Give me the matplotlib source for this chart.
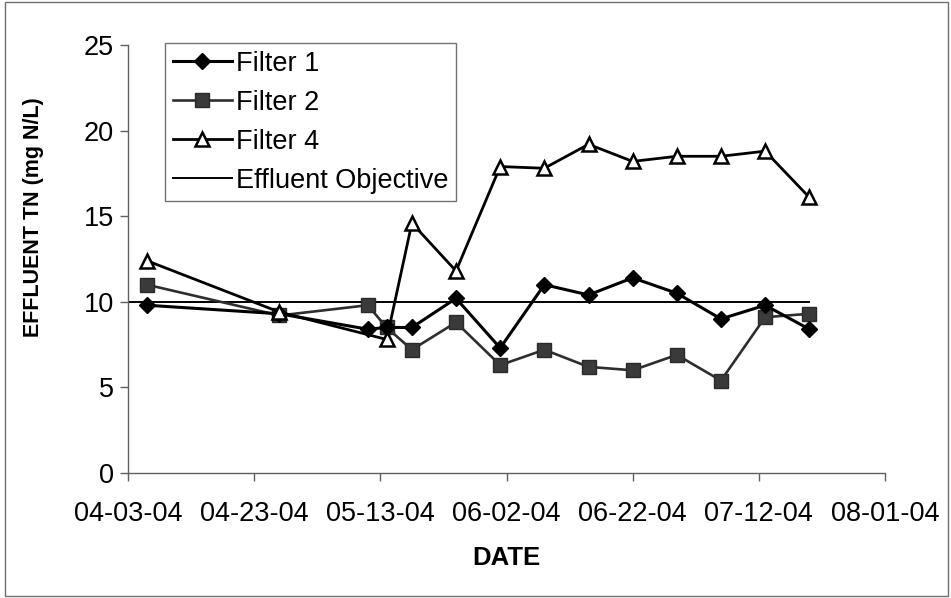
import datetime as dt
import matplotlib
matplotlib.use("Agg")
import matplotlib.pyplot as plt
import matplotlib.dates as mdates
from matplotlib.patches import Rectangle

plt.rcParams['font.family'] = ['Liberation Sans', 'DejaVu Sans']

# Sampling dates (2004) and effluent total nitrogen (mg N/L)
filter1_dates = ["2004-04-06", "2004-04-27", "2004-05-11", "2004-05-14", "2004-05-18",
                 "2004-05-25", "2004-06-01", "2004-06-08", "2004-06-15", "2004-06-22",
                 "2004-06-29", "2004-07-06", "2004-07-13", "2004-07-20"]
filter1_tn = [9.8, 9.3, 8.4, 8.5, 8.5, 10.2, 7.3, 11.0, 10.4, 11.4, 10.5, 9.0, 9.8, 8.4]

filter2_dates = ["2004-04-06", "2004-04-27", "2004-05-11", "2004-05-14", "2004-05-18",
                 "2004-05-25", "2004-06-01", "2004-06-08", "2004-06-15", "2004-06-22",
                 "2004-06-29", "2004-07-06", "2004-07-13", "2004-07-20"]
filter2_tn = [11.0, 9.2, 9.8, 8.5, 7.2, 8.8, 6.3, 7.2, 6.2, 6.0, 6.9, 5.4, 9.1, 9.3]

filter4_dates = ["2004-04-06", "2004-04-27", "2004-05-14", "2004-05-18", "2004-05-25",
                 "2004-06-01", "2004-06-08", "2004-06-15", "2004-06-22", "2004-06-29",
                 "2004-07-06", "2004-07-13", "2004-07-20"]
filter4_tn = [12.4, 9.4, 7.8, 14.6, 11.8, 17.9, 17.8, 19.2, 18.2, 18.5, 18.5, 18.8, 16.1]

objective_dates = ["2004-04-03", "2004-07-20"]
objective_tn = [10, 10]

x_start, x_end = "2004-04-03", "2004-08-01"
y_ticks = [0, 5, 10, 15, 20, 25]


def to_dates(seq):
    return [dt.datetime.strptime(s, "%Y-%m-%d") for s in seq]


fig = plt.figure(figsize=(9.51, 5.98), dpi=100)
fig.patch.set_facecolor("white")
ax = fig.add_axes([128 / 951, 1 - 473 / 598, (885 - 128) / 951, (473 - 45) / 598])

ax.plot(to_dates(filter1_dates), filter1_tn, color="black", lw=2.2,
        marker="D", ms=8.5, mfc="black", mec="black", label="Filter 1", zorder=4)
ax.plot(to_dates(filter2_dates), filter2_tn, color="#2e2e2e", lw=1.9,
        marker="s", ms=9.5, mfc="#3a3a3a", mec="#2a2a2a", label="Filter 2", zorder=3)
ax.plot(to_dates(filter4_dates), filter4_tn, color="black", lw=2.0,
        marker="^", ms=10, mfc="white", mec="black", mew=1.8, label="Filter 4", zorder=5)
ax.plot(to_dates(objective_dates), objective_tn, color="black", lw=1.4,
        label="Effluent Objective", zorder=2)

xs, xe = to_dates([x_start, x_end])
ax.set_xlim(xs, xe)
ax.set_ylim(0, 25)
tick_days = [xs + dt.timedelta(days=20 * i) for i in range(7)]
ax.set_xticks(tick_days)
ax.xaxis.set_major_formatter(mdates.DateFormatter("%m-%d-%y"))
ax.set_yticks(y_ticks)

for side in ("top", "right"):
    ax.spines[side].set_visible(False)
for side in ("left", "bottom"):
    ax.spines[side].set_color("#606060")
    ax.spines[side].set_linewidth(1.0)

ax.tick_params(axis="both", direction="out", length=6, width=1.0, color="#606060",
               labelsize=19.5, labelcolor="black")
ax.tick_params(axis="x", pad=14)
ax.tick_params(axis="y", pad=4)

ax.set_xlabel("DATE", fontsize=18.5, fontweight="bold", labelpad=14)
ax.set_ylabel("EFFLUENT TN (mg N/L)", fontsize=15.5, fontweight="bold")
ax.yaxis.set_label_coords(-0.111, 0.598)

leg = ax.legend(loc="upper left", bbox_to_anchor=(165 / 951, 1 - 43 / 598),
                bbox_transform=fig.transFigure, fontsize=19.5, frameon=True,
                fancybox=False, edgecolor="#505050", handlelength=2.2,
                handletextpad=0.15, labelspacing=0.48, borderpad=0.28,
                borderaxespad=0, markerscale=1.0)
leg.get_frame().set_linewidth(1.0)

# Outer border around the whole figure
fig.patches.append(Rectangle((5 / 951, 2 / 598), 943 / 951, 594 / 598,
                             transform=fig.transFigure, fill=False,
                             edgecolor="#707070", lw=1.0))

fig.savefig("out.png", dpi=100, facecolor="white")
